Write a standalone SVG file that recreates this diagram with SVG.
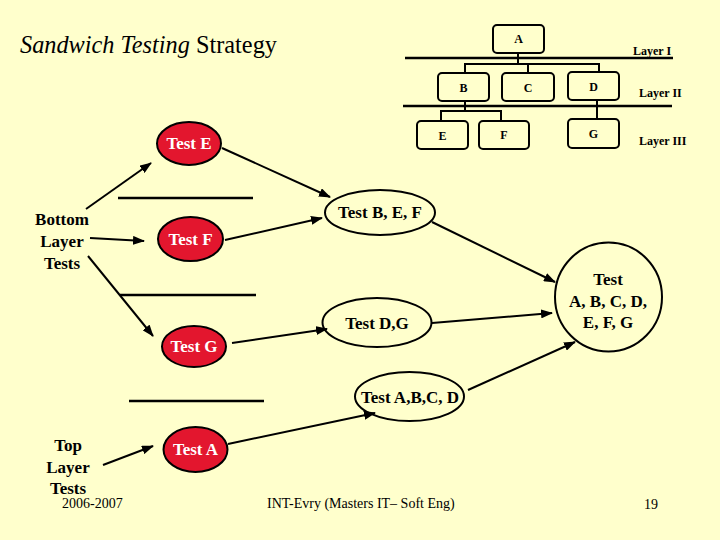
<svg xmlns="http://www.w3.org/2000/svg" width="720" height="540" viewBox="0 0 720 540">
<style>
.bg{fill:#FFFFCC}
.box{fill:none;stroke:#000;stroke-width:2}
.tl{stroke:#000;stroke-width:2;fill:none}
.sep{stroke:#000;stroke-width:2.5}
text{font-family:"Liberation Serif","Times New Roman","DejaVu Serif",serif}
.lt{font-weight:bold;font-size:12px;fill:#000;text-anchor:middle}
.lay{font-weight:bold;font-size:12px;fill:#000}
.red{fill:#E3162E;stroke:#000;stroke-width:2}
.wht{fill:none;stroke:#000;stroke-width:2}
.wt{font-weight:bold;font-size:17px;fill:#fff;text-anchor:middle}
.bt{font-weight:bold;font-size:17px;fill:#000;text-anchor:middle}
.side{font-weight:bold;font-size:17px;fill:#000;text-anchor:middle}
.ft{font-size:14px;fill:#000}
.arr{stroke:#000;stroke-width:2;fill:none;marker-end:url(#ah)}
</style>
<defs>
<marker id="ah" markerUnits="userSpaceOnUse" markerWidth="12" markerHeight="9" refX="11" refY="4.5" orient="auto">
<path d="M0,0 L12,4.5 L0,9 z" fill="#000"/>
</marker>
</defs>
<rect class="bg" x="0" y="0" width="720" height="540"/>
<text x="20" y="53" font-size="24.3" fill="#000"><tspan font-style="italic">Sandwich Testing</tspan> Strategy</text>

<g id="hierarchy">
<line class="sep" x1="405" y1="58" x2="673" y2="58"/>
<line class="sep" x1="403" y1="106" x2="672" y2="106"/>
<path class="tl" d="M518,53 V64 M465,73 V64 H599 V73 M528,64 V73 M465,101 V111 M441,121 V111 H501 V121 M597,100 V120"/>
<g id="box-A"><rect class="box" x="493" y="25" width="51" height="28" rx="4"/><text class="lt" x="518.5" y="43">A</text></g>
<g id="box-B"><rect class="box" x="438" y="73" width="51" height="28" rx="4"/><text class="lt" x="463.5" y="92">B</text></g>
<g id="box-C"><rect class="box" x="502" y="73" width="52" height="28" rx="4"/><text class="lt" x="528" y="92">C</text></g>
<g id="box-D"><rect class="box" x="568" y="72" width="51" height="28" rx="4"/><text class="lt" x="593.5" y="91">D</text></g>
<g id="box-E"><rect class="box" x="417" y="121" width="51" height="28" rx="4"/><text class="lt" x="442.5" y="140">E</text></g>
<g id="box-F"><rect class="box" x="479" y="121" width="50" height="28" rx="4"/><text class="lt" x="504" y="139">F</text></g>
<g id="box-G"><rect class="box" x="568" y="119" width="51" height="29" rx="4"/><text class="lt" x="593.5" y="138">G</text></g>
<text class="lay" x="633" y="55">Layer I</text>
<text class="lay" x="639" y="97">Layer II</text>
<text class="lay" x="639" y="145">Layer III</text>
</g>

<g id="separators">
<line class="sep" x1="118" y1="198" x2="253" y2="198"/>
<line class="sep" x1="120" y1="295" x2="256" y2="295"/>
<line class="sep" x1="129" y1="401" x2="264" y2="401"/>
</g>

<g id="connectors">
<line class="arr" x1="86" y1="209" x2="151" y2="163"/>
<line class="arr" x1="90" y1="238" x2="144" y2="241"/>
<line class="arr" x1="88" y1="256" x2="153" y2="336"/>
<line class="arr" x1="103" y1="465" x2="153" y2="446"/>
<line class="arr" x1="222" y1="148" x2="330" y2="197"/>
<line class="arr" x1="225" y1="240" x2="322" y2="218"/>
<line class="arr" x1="232" y1="343" x2="327" y2="329"/>
<line class="arr" x1="228" y1="444" x2="375" y2="413"/>
<line class="arr" x1="432" y1="222" x2="555" y2="282"/>
<line class="arr" x1="432" y1="323" x2="552" y2="313"/>
<line class="arr" x1="468" y1="390" x2="575" y2="342"/>
</g>

<g id="bottom-label"><text class="side" x="62" y="225">Bottom</text><text class="side" x="62" y="247">Layer</text><text class="side" x="62" y="269">Tests</text></g>
<g id="top-label"><text class="side" x="68" y="451">Top</text><text class="side" x="68" y="473">Layer</text><text class="side" x="68" y="494">Tests</text></g>

<g id="test-E"><ellipse class="red" cx="189" cy="143.5" rx="32" ry="21.5"/><text class="wt" x="189" y="149">Test E</text></g>
<g id="test-F"><ellipse class="red" cx="190.5" cy="239" rx="32.5" ry="22"/><text class="wt" x="190.5" y="245">Test F</text></g>
<g id="test-G"><ellipse class="red" cx="194" cy="346.5" rx="32" ry="20.5"/><text class="wt" x="194" y="352">Test G</text></g>
<g id="test-A"><ellipse class="red" cx="195.5" cy="449.5" rx="32" ry="22.5"/><text class="wt" x="195.5" y="455">Test A</text></g>
<g id="test-BEF"><ellipse class="wht" cx="380" cy="212.5" rx="55" ry="22.5"/><text class="bt" x="380" y="218">Test B, E, F</text></g>
<g id="test-DG"><ellipse class="wht" cx="377" cy="322.5" rx="54.5" ry="24.5"/><text class="bt" x="377" y="329">Test D,G</text></g>
<g id="test-ABCD"><ellipse class="wht" cx="409.5" cy="396.5" rx="54.5" ry="24.5"/><text class="bt" x="410" y="403">Test A,B,C, D</text></g>
<g id="test-all"><ellipse class="wht" cx="608.5" cy="297" rx="53.5" ry="54.5"/><text class="bt" x="608" y="285">Test</text><text class="bt" x="608" y="307">A, B, C, D,</text><text class="bt" x="608" y="328">E, F, G</text></g>

<text class="ft" x="62" y="508">2006-2007</text>
<text class="ft" x="267" y="508">INT-Evry (Masters IT– Soft Eng)</text>
<text class="ft" x="651" y="509" text-anchor="middle">19</text>
</svg>
